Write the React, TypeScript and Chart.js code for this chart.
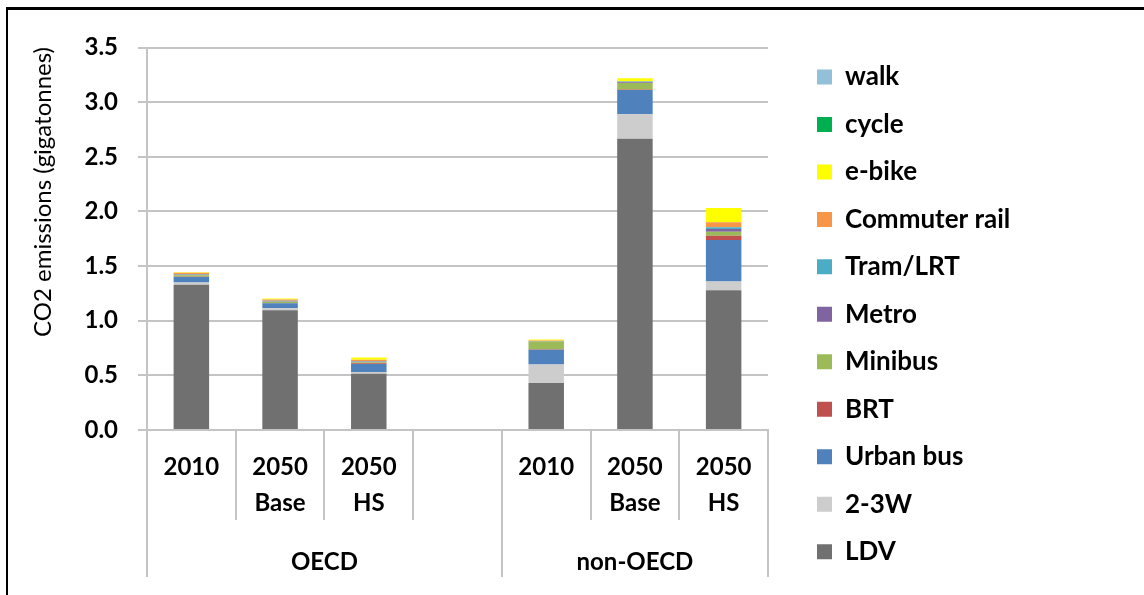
import React, { useEffect, useRef } from 'react';
import { Chart, registerables } from 'chart.js';

Chart.register(...registerables);

// ---- data ----
const categories: string[][] = [['2010'], ['2050', 'Base'], ['2050', 'HS'], [''], ['2010'], ['2050', 'Base'], ['2050', 'HS']];
const groupLabels = ['OECD', 'non-OECD'];
const groupSizes = [4, 3];
const yTitle = 'CO2 emissions (gigatonnes)';
const yMin = 0;
const yMax = 3.5;
const yStep = 0.5;

const seriesNames = ['LDV', '2-3W', 'Urban bus', 'BRT', 'Minibus', 'Metro', 'Tram/LRT', 'Commuter rail', 'e-bike', 'cycle', 'walk'];
const seriesColors = ['#707070', '#CDCDCD', '#4F81BD', '#C0504D', '#9BBB59', '#8064A2', '#4BACC6', '#F79646', '#FFFF00', '#00B050', '#92C0D8'];

const ldv = [1.33, 1.095, 0.515, null, 0.43, 2.665, 1.278];
const twoThreeW = [0.02, 0.02, 0.015, null, 0.17, 0.225, 0.08];
const urbanBus = [0.05, 0.045, 0.075, null, 0.135, 0.22, 0.38];
const brt = [0.003, 0.003, 0.005, null, 0.005, 0.005, 0.04];
const minibus = [0.012, 0.01, 0.01, null, 0.07, 0.06, 0.037];
const metro = [0.006, 0.006, 0.005, null, 0.003, 0.008, 0.025];
const tramLrt = [0.004, 0.004, 0.005, null, 0.002, 0.005, 0.015];
const commuterRail = [0.015, 0.012, 0.012, null, 0.003, 0.004, 0.046];
const eBike = [0.003, 0.008, 0.022, null, 0.01, 0.026, 0.13];
const cycle = [0, 0, 0, null, 0, 0, 0];
const walk = [0, 0, 0, null, 0, 0, 0];

const seriesValues = [ldv, twoThreeW, urbanBus, brt, minibus, metro, tramLrt, commuterRail, eBike, cycle, walk];

const FONT = 'Lato';
const GRID = '#C4C4C4';
const W = 1144;
const LEGEND_FONT = 26;
const LEGEND_PAD = 47.47 - LEGEND_FONT;
const LEGEND_BOX = 15;
const LEGEND_LEFT = 816 - LEGEND_PAD;
const PLOT_RIGHT = 767;

const decorPlugin = {
  id: 'decor',
  afterDraw(chart: any) {
    const { ctx, scales } = chart;
    const x = scales.x;
    const n = categories.length;
    const half = (x.getPixelForValue(1) - x.getPixelForValue(0)) / 2;
    const bottomAxis = chart.chartArea.bottom;
    ctx.save();
    ctx.strokeStyle = GRID;
    ctx.lineWidth = 2;
    const groupBounds = new Set<number>();
    let acc = 0;
    groupBounds.add(0);
    groupSizes.forEach((s) => { acc += s; groupBounds.add(acc); });
    for (let i = 0; i <= n; i++) {
      const px = Math.round(i < n ? x.getPixelForValue(i) - half : x.getPixelForValue(n - 1) + half);
      const long = groupBounds.has(i);
      ctx.beginPath();
      ctx.moveTo(px, bottomAxis);
      ctx.lineTo(px, long ? bottomAxis + 147 : bottomAxis + 90);
      ctx.stroke();
    }
    ctx.fillStyle = '#000';
    ctx.font = `bold 24px ${FONT}`;
    ctx.textAlign = 'center';
    ctx.textBaseline = 'middle';
    let start = 0;
    groupLabels.forEach((g, gi) => {
      const end = start + groupSizes[gi];
      const l = x.getPixelForValue(start) - half;
      const r = x.getPixelForValue(end - 1) + half;
      ctx.fillText(g, (l + r) / 2, bottomAxis + 132);
      start = end;
    });
    ctx.translate(43, 192);
    ctx.rotate(-Math.PI / 2);
    ctx.font = `normal 24px ${FONT}`;
    ctx.fillText(yTitle, 0, 0);
    ctx.restore();
  },
};

export default function App() {
  const ref = useRef<HTMLCanvasElement | null>(null);
  useEffect(() => {
    if (!ref.current) return;
    // measure the widest legend label to size the legend box exactly
    const mctx = document.createElement('canvas').getContext('2d')!;
    mctx.font = `bold ${LEGEND_FONT}px ${FONT}`;
    const maxText = Math.max(...seriesNames.map((s) => mctx.measureText(s).width));
    const legendWidth = LEGEND_PAD + LEGEND_BOX + LEGEND_FONT / 2 + maxText + 10 + 1;
    const padRight = W - LEGEND_LEFT - legendWidth;

    const chart = new Chart(ref.current, {
      type: 'bar',
      data: {
        labels: categories,
        datasets: seriesNames.map((name, i) => ({
          label: name,
          data: seriesValues[i],
          backgroundColor: seriesColors[i],
          borderWidth: 0,
          barPercentage: 0.4,
          categoryPercentage: 1,
          stack: 's',
        })),
      },
      options: {
        animation: false,
        responsive: false,
        maintainAspectRatio: false,
        layout: { padding: { top: 42.5, left: 0, right: padRight, bottom: 0 } },
        plugins: {
          tooltip: { enabled: false },
          legend: {
            position: 'right',
            align: 'start',
            reverse: true,
            maxWidth: legendWidth,
            labels: {
              boxWidth: LEGEND_BOX,
              boxHeight: LEGEND_BOX,
              padding: LEGEND_PAD,
              color: '#000',
              font: { family: FONT, size: LEGEND_FONT, weight: 'bold' },
            },
          },
        },
        scales: {
          x: {
            stacked: true,
            grid: { display: false, drawTicks: false },
            border: { display: true, color: GRID, width: 2 },
            ticks: {
              autoSkip: false,
              maxRotation: 0,
              padding: 19,
              color: '#000',
              font: { family: FONT, size: 24, weight: 'bold', lineHeight: 1.5 },
            },
            afterFit: (s: any) => { s.height = 165; },
          },
          xTop: {
            type: 'linear',
            position: 'top',
            display: true,
            min: 0,
            max: 1,
            grid: { display: false, drawTicks: false },
            border: { display: false },
            ticks: { display: false },
            afterFit: (s: any) => { s.height = 5; },
          },
          y: {
            stacked: true,
            min: yMin,
            max: yMax,
            ticks: {
              stepSize: yStep,
              padding: 20,
              color: '#000',
              font: { family: FONT, size: 24, weight: 'bold' },
              callback: (v: any) => Number(v).toFixed(1),
            },
            grid: { color: GRID, lineWidth: 2, tickLength: 9 },
            border: { display: true, color: GRID, width: 2 },
            afterFit: (s: any) => { s.width = 147; },
          },
          yRight: {
            type: 'linear',
            position: 'right',
            display: true,
            min: 0,
            max: 1,
            grid: { display: false, drawTicks: false },
            border: { display: false },
            ticks: { display: false },
            afterFit: (s: any) => { s.width = LEGEND_LEFT - PLOT_RIGHT; },
          },
        },
      },
      plugins: [decorPlugin],
    } as any);
    return () => chart.destroy();
  }, []);

  return (
    <div style={{ position: 'fixed', left: 0, top: 0, width: W, height: 595, background: '#fff' }}>
      <div style={{ position: 'absolute', left: 6, top: 7, width: 1138, height: 588, borderTop: '3px solid #000', borderLeft: '2px solid #000', boxSizing: 'border-box' }} />
      <canvas ref={ref} width={W} height={595} style={{ position: 'absolute', left: 0, top: 0, width: W, height: 595 }} />
    </div>
  );
}
